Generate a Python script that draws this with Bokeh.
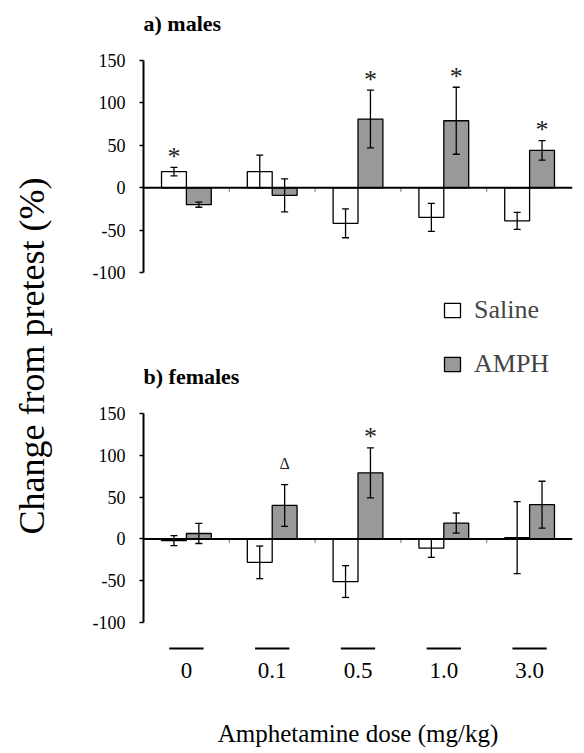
from bokeh.plotting import figure
from bokeh.models import (Range1d, LinearAxis, FixedTicker, Span, Whisker, ColumnDataSource,
                          Legend, LegendItem, Label, TeeHead)
from bokeh.layouts import row, column
from bokeh.embed import file_html
from bokeh.resources import INLINE
from bokeh.core.properties import value

# ---------------- data ----------------
doses = ["0", "0.1", "0.5", "1.0", "3.0"]
series = ["Saline", "AMPH"]

male_saline = [19, 19, -42, -35, -39]
male_saline_err = [5, 19.5, 17, 16.5, 10]
male_amph = [-20, -9, 81, 79, 44]
male_amph_err = [3, 19.5, 34, 39.5, 11.5]

female_saline = [-2, -28, -51, -11, 1.5]
female_saline_err = [6, 19.5, 19, 11, 43]
female_amph = [6.5, 40, 79, 19, 41]
female_amph_err = [12, 25, 30, 12, 28]

y_ticks = [-100, -50, 0, 50, 100, 150]
y_tick_labels = ["-100", "-50", "0", "50", "100", "150"]

# significance marks: (dose index, series, symbol)
male_marks = [(0, "Saline", "*"), (2, "AMPH", "*"), (3, "AMPH", "*"), (4, "AMPH", "*")]
female_marks = [(1, "AMPH", "\u0394"), (2, "AMPH", "*")]

# ---------------- style ----------------
FONT = "Liberation Serif"
BAR_W = 0.29
GRAY = "#999999"
LEFT_W = 68
PANEL_W = 516
TITLE_Y = 194

def panel(title, sal, sal_e, amp, amp_e, marks, h, yr):
    p = figure(width=PANEL_W, height=h, x_range=Range1d(-0.5, 4.5), y_range=Range1d(*yr),
               output_backend="svg", toolbar_location=None, title=None,
               x_axis_location=None, y_axis_location=None,
               min_border_left=75, min_border_right=12, min_border_top=0, min_border_bottom=0)
    p.outline_line_color = None
    p.grid.visible = False
    idx = list(range(len(doses)))
    xs_s = [i - BAR_W / 2 for i in idx]
    xs_a = [i + BAR_W / 2 for i in idx]
    r_s = p.vbar(x=xs_s, top=sal, bottom=0, width=BAR_W, fill_color="white",
                 line_color="black", line_width=1.3)
    r_a = p.vbar(x=xs_a, top=amp, bottom=0, width=BAR_W, fill_color=GRAY,
                 line_color="black", line_width=1.3)
    for xs, m, e in ((xs_s, sal, sal_e), (xs_a, amp, amp_e)):
        src = ColumnDataSource(dict(x=xs, upper=[a + b for a, b in zip(m, e)],
                                    lower=[a - b for a, b in zip(m, e)]))
        w = Whisker(source=src, base="x", upper="upper", lower="lower",
                    line_width=1.3, line_color="black", level="annotation",
                    upper_head=TeeHead(size=7, line_width=1.3, line_color="black"),
                    lower_head=TeeHead(size=7, line_width=1.3, line_color="black"))
        p.add_layout(w)
    p.add_layout(Span(location=0, dimension="width", line_color="black", line_width=2))
    bx = [i + 0.5 for i in idx[:-1]]
    p.segment(x0=bx, y0=[0] * len(bx), x1=bx, y1=[-5] * len(bx), line_color="#777777", line_width=1)
    ax = LinearAxis(ticker=FixedTicker(ticks=y_ticks), bounds=(min(y_ticks), max(y_ticks)),
                    major_label_overrides={t: l for t, l in zip(y_ticks, y_tick_labels)},
                    axis_line_width=2, axis_line_color="black",
                    major_tick_out=4, major_tick_in=0, major_tick_line_width=1.5,
                    minor_tick_line_color=None, major_label_standoff=14,
                    major_label_text_font=FONT, major_label_text_font_size="18px",
                    major_label_text_color="black")
    p.add_layout(ax, "left")
    # significance marks
    mx, my, mt, ms = [], [], [], []
    for gi, s, sym in marks:
        if s == "Saline":
            x, top_v = xs_s[gi], sal[gi] + sal_e[gi]
        else:
            x, top_v = xs_a[gi], amp[gi] + amp_e[gi]
        mx.append(x)
        if sym == "*":
            my.append(top_v + 13)
            ms.append("26px")
        else:
            my.append(top_v + 25)
            ms.append("16px")
        mt.append(sym)
    src = ColumnDataSource(dict(x=mx, y=my, t=mt, s=ms))
    p.text(x="x", y="y", text="t", text_font_size="s", source=src, text_font=value(FONT),
           text_align="center", text_baseline="middle", text_color="#222222")
    p.text(x=[-0.5], y=[TITLE_Y], text=[title], text_font=value(FONT), text_font_size="22px",
           text_font_style="bold", text_baseline="middle", text_align="left", text_color="black")
    return p, r_s, r_a

pa, _, _ = panel("a) males", male_saline, male_saline_err, male_amph, male_amph_err,
                 male_marks, 290, (-121.2, 220.8))
pb, rs, ra = panel("b) females", female_saline, female_saline_err, female_amph, female_amph_err,
                   female_marks, 346, (-116.7, 297.1))

legend = Legend(items=[LegendItem(label=series[0], renderers=[rs]),
                       LegendItem(label=series[1], renderers=[ra])],
                location=(299, 257), padding=0, margin=0, spacing=24,
                glyph_width=20, glyph_height=18, label_height=30, label_standoff=12,
                label_text_font=FONT, label_text_font_size="26px",
                border_line_color=None, background_fill_alpha=0)
pb.add_layout(legend)

# x-axis strip
pc = figure(width=PANEL_W, height=117, x_range=Range1d(-0.5, 4.5), y_range=Range1d(-1, 1),
            output_backend="svg", toolbar_location=None, title=None,
            x_axis_location=None, y_axis_location=None,
            min_border_left=75, min_border_right=12, min_border_top=5, min_border_bottom=98)
pc.outline_line_color = None
pc.grid.visible = False
gi = list(range(len(doses)))
pc.segment(x0=[i - 0.2 for i in gi], y0=[0] * len(gi), x1=[i + 0.2 for i in gi], y1=[0] * len(gi),
           line_color="black", line_width=2)
xax = LinearAxis(ticker=FixedTicker(ticks=gi),
                 major_label_overrides={i: d for i, d in zip(gi, doses)},
                 axis_line_color=None, major_tick_line_color=None, minor_tick_line_color=None,
                 major_tick_out=0, major_tick_in=0, major_label_standoff=7,
                 major_label_text_font=FONT, major_label_text_font_size="23px",
                 major_label_text_color="black",
                 axis_label="Amphetamine dose (mg/kg)", axis_label_text_font=FONT,
                 axis_label_text_font_size="25px", axis_label_text_font_style="normal",
                 axis_label_standoff=39, axis_label_text_color="black")
pc.add_layout(xax, "below")

# y label strip
pl = figure(width=LEFT_W, height=753, x_range=Range1d(0, LEFT_W), y_range=Range1d(0, 753),
            output_backend="svg", toolbar_location=None, title=None,
            x_axis_location=None, y_axis_location=None, min_border=0)
pl.outline_line_color = None
pl.grid.visible = False
pl.add_layout(Label(x=31, y=397.5, text="Change from pretest (%)", angle=90, angle_units="deg",
                    text_align="center", text_baseline="middle", text_font=FONT,
                    text_font_size="36px", text_color="black"))

layout = row(pl, column(pa, pb, pc))
open("out.html", "w").write(file_html(layout, INLINE))
